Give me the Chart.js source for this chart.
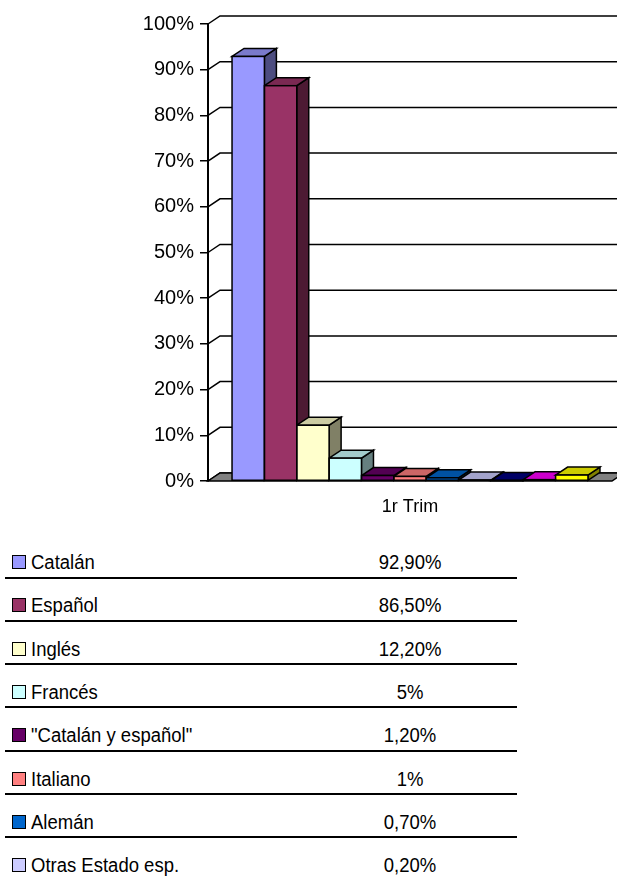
<!DOCTYPE html>
<html>
<head>
<meta charset="utf-8">
<script src="https://cdn.jsdelivr.net/npm/chart.js@4.4.0/dist/chart.umd.min.js"></script>
<style>
    body { margin: 0; background: #fff; width: 617px; height: 877px; overflow: hidden; position: relative;
           font-family: "Liberation Sans", Arial, sans-serif; color: #000; }
    #grafico { position: absolute; left: 0; top: 0; width: 617px; height: 530px; }
    .fila { position: absolute; left: 0; width: 617px; height: 24px; line-height: 24px; font-size: 18.5px; }
    .caja { position: absolute; left: 12px; top: 5px; width: 12px; height: 12px; border: 1.5px solid #000; }
    .nombre { position: absolute; left: 31px; top: 0; white-space: nowrap; transform: scaleY(1.12); transform-origin: left center; }
    .valor { position: absolute; left: 310px; width: 200px; top: 0; text-align: center; transform: scaleY(1.12); }
    .linea { position: absolute; left: 5px; width: 512px; height: 2px; background: #000; }
</style>
</head>
<body>
<div id="grafico"><canvas id="idiomas"></canvas></div>
<div id="tabla"></div>
<script>
var trimestres = ['1r Trim']
var idiomas = ['Catalán', 'Español', 'Inglés', 'Francés', '"Catalán y español"', 'Italiano', 'Alemán',
    'Otras Estado esp.', 'Otras UE', 'Otras', 'NS/NC']
var porcentajes = [92.9, 86.5, 12.2, 5, 1.2, 1, 0.7, 0.2, 0.1, 0.3, 1.3]
var colores = ['#9999FF', '#993366', '#FFFFCC', '#CCFFFF', '#660066', '#FF8080', '#0066CC',
    '#CCCCFF', '#000080', '#FF00FF', '#FFFF00']

// desplazamiento de la profundidad 3D
var DX = 12, DY = 8
var fuente = '"Liberation Sans", Arial, sans-serif'

function oscurecer(hex, f) {
    var n = parseInt(hex.slice(1), 16)
    var r = Math.round((n >> 16 & 255) * f), g = Math.round((n >> 8 & 255) * f), b = Math.round((n & 255) * f)
    return 'rgb(' + r + ',' + g + ',' + b + ')'
}

function poligono(ctx, pts, relleno) {
    ctx.beginPath()
    ctx.moveTo(pts[0][0], pts[0][1])
    for (var k = 1; k < pts.length; k++) ctx.lineTo(pts[k][0], pts[k][1])
    ctx.closePath()
    if (relleno) { ctx.fillStyle = relleno; ctx.fill() }
    ctx.stroke()
}

function formato(v) {
    return Number.isInteger(v) ? v + '%' : v.toFixed(2).replace('.', ',') + '%'
}

var columnas3d = {
    id: 'columnas3d',
    beforeDatasetsDraw(chart) {
        var ctx = chart.ctx, a = chart.chartArea, y = chart.scales.y
        ctx.save()
        ctx.strokeStyle = '#000'
        ctx.lineWidth = 1.5
        // pared lateral y pared del fondo
        y.ticks.forEach(function (t) {
            var py = y.getPixelForValue(t.value)
            ctx.beginPath()
            ctx.moveTo(a.left, py)
            ctx.lineTo(a.left + DX, py - DY)
            ctx.lineTo(chart.width + 2, py - DY)
            ctx.stroke()
        })
        // suelo
        var b = y.getPixelForValue(0)
        poligono(ctx, [[a.left, b], [a.left + DX, b - DY], [a.right + DX, b - DY], [a.right, b]], '#808080')
        // caras laterales y superiores de cada columna
        chart.data.datasets.forEach(function (ds, i) {
            var bar = chart.getDatasetMeta(i).data[0]
            var l = bar.x - bar.width / 2, r = bar.x + bar.width / 2, t = bar.y, base = bar.base
            poligono(ctx, [[r, t], [r + DX, t - DY], [r + DX, base - DY], [r, base]], oscurecer(ds.backgroundColor, 0.5))
            poligono(ctx, [[l, t], [l + DX, t - DY], [r + DX, t - DY], [r, t]], oscurecer(ds.backgroundColor, 0.8))
        })
        ctx.restore()
    },
    afterDatasetsDraw(chart) {
        var ctx = chart.ctx
        ctx.save()
        ctx.strokeStyle = '#000'
        ctx.lineWidth = 1.5
        chart.data.datasets.forEach(function (ds, i) {
            var bar = chart.getDatasetMeta(i).data[0]
            ctx.strokeRect(bar.x - bar.width / 2, bar.y, bar.width, bar.base - bar.y)
        })
        ctx.restore()
    }
}

new Chart('idiomas', {
    type: 'bar',
    data: {
        labels: trimestres,
        datasets: idiomas.map(function (nombre, i) {
            return {
                label: nombre,
                data: [porcentajes[i]],
                backgroundColor: colores[i],
                borderWidth: 0,
                barPercentage: 1,
                categoryPercentage: 0.881
            }
        })
    },
    options: {
        responsive: true,
        maintainAspectRatio: false,
        animation: false,
        layout: { padding: { top: 24, right: 5, left: 0, bottom: 0 } },
        plugins: {
            legend: { display: false },
            tooltip: { enabled: false }
        },
        scales: {
            x: {
                grid: { display: false, drawTicks: false },
                border: { display: false },
                ticks: { color: '#000', font: { family: fuente, size: 18 }, padding: 15 },
                afterFit: function (s) { s.height = 49 }
            },
            y: {
                min: 0,
                max: 100,
                ticks: {
                    stepSize: 10,
                    color: '#000',
                    font: { family: fuente, size: 20 },
                    padding: 6,
                    callback: function (v) { return v + '%' }
                },
                grid: { drawOnChartArea: false, drawTicks: true, tickLength: 8, color: '#000', lineWidth: 1.5 },
                border: { display: true, color: '#000', width: 2 },
                afterFit: function (s) { s.width = 208 }
            }
        }
    },
    plugins: [columnas3d]
})

// tabla de datos bajo el grafico
var tabla = document.getElementById('tabla')
idiomas.forEach(function (nombre, i) {
    var centro = 562 + 43.3 * i
    var fila = document.createElement('div')
    fila.className = 'fila'
    fila.style.top = (centro - 12) + 'px'
    fila.innerHTML = '<div class="caja" style="background:' + colores[i] + '"></div>' +
        '<div class="nombre"></div><div class="valor">' + formato(porcentajes[i]) + '</div>'
    fila.querySelector('.nombre').textContent = nombre
    tabla.appendChild(fila)
    var linea = document.createElement('div')
    linea.className = 'linea'
    linea.style.top = (centro + 14.5) + 'px'
    tabla.appendChild(linea)
})
</script>
</body>
</html>
